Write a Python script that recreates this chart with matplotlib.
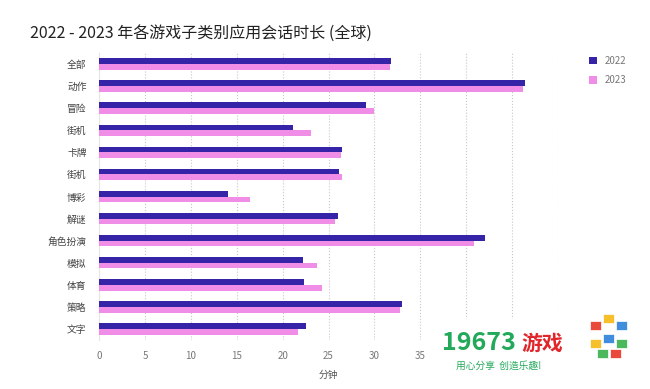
import numpy as np
import matplotlib.pyplot as plt
from matplotlib.patches import Rectangle

plt.rcParams['font.family'] = ['Noto Sans CJK SC', 'DejaVu Sans']

# Data (minutes per session)
categories = ['全部', '动作', '冒险', '街机', '卡牌', '街机', '博彩', '解谜',
              '角色扮演', '模拟', '体育', '策略', '文字']
y2022 = [31.8, 46.4, 29.1, 21.1, 26.5, 26.1, 14.1, 26.0, 42.0, 22.2, 22.3, 33.0, 22.5]
y2023 = [31.7, 46.2, 30.0, 23.1, 26.4, 26.5, 16.5, 25.7, 40.9, 23.8, 24.3, 32.8, 21.7]
xticks = [0, 5, 10, 15, 20, 25, 30, 35, 40, 45, 50]
# 40-50 labels are covered by the site logo in the original
xticklabels = ['0', '5', '10', '15', '20', '25', '30', '35', '', '', '']

c2022 = '#3524a8'
c2023 = '#f08de6'

fig = plt.figure(figsize=(6.5, 3.89), dpi=100)
ax = fig.add_axes([99 / 650, 1 - 340 / 389, (558 - 99) / 650, (340 - 53) / 389])

pos = np.arange(len(categories))
h = 0.26
ax.barh(pos - h / 2, y2022, height=h, color=c2022, label='2022', zorder=3)
ax.barh(pos + h / 2, y2023, height=h, color=c2023, label='2023', zorder=3)

ax.set_ylim(len(categories) - 0.5, -0.5)
ax.set_xlim(0, 50)
ax.set_yticks(pos)
ax.set_yticklabels(categories, fontsize=7, color='#444444')
ax.set_xticks(xticks)
ax.set_xticklabels(xticklabels, fontsize=7, color='#777777')
ax.tick_params(length=0, pad=8)
ax.tick_params(axis='y', pad=9)
ax.grid(axis='x', linestyle=':', color='#c8c8c8', linewidth=0.8, zorder=0)
for s in ['top', 'right', 'bottom']:
    ax.spines[s].set_visible(False)
ax.spines['left'].set_color('#e6e6e6')
ax.set_xlabel('分钟', fontsize=7, color='#555555', labelpad=6)

fig.text(30 / 650, 1 - 33 / 389, '2022 - 2023 年各游戏子类别应用会话时长 (全球)',
         fontsize=11.5, color='#222222', va='center', ha='left')

fig.legend(loc='upper left', bbox_to_anchor=(580 / 650, 1 - 47 / 389), frameon=False,
           fontsize=7, handlelength=0.8, handleheight=0.8, labelspacing=1.0,
           labelcolor='#777777')

# watermark box
fig.patches.append(Rectangle((440 / 650, 0), 210 / 650, 70 / 389, transform=fig.transFigure,
                             facecolor='white', edgecolor='none', zorder=5))
fig.text(442 / 650, 1 - 343 / 389, '19673', fontsize=18, fontweight='bold', color='#22a95a',
         va='center', ha='left', zorder=6)
fig.text(521 / 650, 1 - 343 / 389, '游戏', fontsize=15, fontweight='bold', color='#e0262b',
         va='center', ha='left', zorder=6)
fig.text(456 / 650, 1 - 366 / 389, '用心分享  创造乐趣!', fontsize=7, color='#22a95a',
         va='center', ha='left', zorder=6)
cube = [(590, 330, '#e94a3c'), (603, 323, '#f5c02c'), (616, 330, '#3f8ddc'),
        (590, 348, '#f5c02c'), (603, 343, '#3f8ddc'), (616, 348, '#4cb85c'),
        (597, 358, '#4cb85c'), (610, 358, '#e94a3c')]
for cx, cy, col in cube:
    fig.patches.append(Rectangle((cx / 650, 1 - cy / 389), 11 / 650, 9 / 389,
                                 transform=fig.transFigure, facecolor=col,
                                 edgecolor='white', linewidth=0.5, zorder=6))

fig.savefig('out.png', dpi=100)
